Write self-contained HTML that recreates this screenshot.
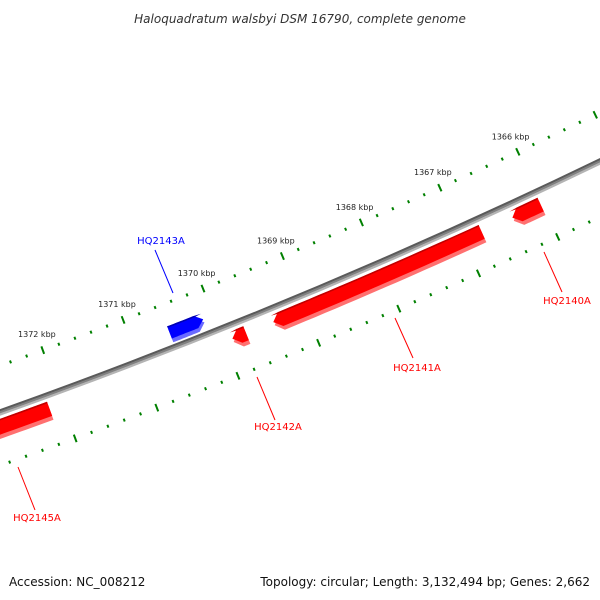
<!DOCTYPE html>
<html><head><meta charset="utf-8"><style>
body{margin:0;background:#fff}
svg{display:block;font-family:"DejaVu Sans","Liberation Sans",sans-serif}
</style></head><body>
<svg id="map" width="600" height="600" viewBox="0 0 600 600" xmlns="http://www.w3.org/2000/svg">
<rect width="600" height="600" fill="#fff"/>
<text x="300" y="23" text-anchor="middle" font-size="12" font-style="italic" fill="#333">Haloquadratum walsbyi DSM 16790, complete genome</text>
<g id="ticks"></g>
<g id="backbone"></g>
<g id="genes"></g>
<g id="labels"></g>
<text x="9" y="586" font-size="12" fill="#111">Accession: NC_008212</text>
<text x="590" y="586" text-anchor="end" font-size="12" fill="#111">Topology: circular; Length: 3,132,494 bp; Genes: 2,662</text>
</svg>
<script>
const tickLabelKbp = [1366, 1367, 1368, 1369, 1370, 1371, 1372];
const geneNames = ["HQ2145A", "HQ2143A", "HQ2142A", "HQ2141A", "HQ2140A"];
const geneStart = [1372.16, 1370.55, 1369.90, 1369.39, 1366.38];
const geneEnd = [1373.6, 1370.13, 1369.73, 1366.77, 1366.02];
const geneStrand = [-1, 1, -1, -1, -1];
const labelPos = [[37,521],[161,244],[278,430],[417,371],[567,304]];
const leaderStart = [[18,467],[173,293],[257,377],[395,318],[544,252]];
const leaderEnd = [[35,510],[155,250],[275,420],[413,358],[562,292]];

const NS = "http://www.w3.org/2000/svg";
const cx = -2028, cy = -5278;
const refKbp = 1372, refDeg = 69.80, degPerKbp = 0.82;
function ang(kbp){ return (refDeg - (refKbp - kbp) * degPerKbp) * Math.PI / 180; }
function pt(r, kbp){ const a = ang(kbp); return [cx + r*Math.cos(a), cy + r*Math.sin(a)]; }
function mk(tag, attrs, parent){ const e = document.createElementNS(NS, tag); for (const k in attrs) e.setAttribute(k, attrs[k]); parent.appendChild(e); return e; }

const tg = document.getElementById('ticks');
const rings = [5997, 6091];
rings.forEach((R) => {
  for (let i = 13640; i <= 13740; i += 2) {
    const kbp = i / 10;
    const major = (i % 10 === 0);
    const h = major ? 4 : 1.5;
    const p1 = pt(R - h, kbp), p2 = pt(R + h, kbp);
    const l = mk('line', {x1:p1[0], y1:p1[1], x2:p2[0], y2:p2[1], stroke:'#008000', 'stroke-width': 2}, tg);
    
    
  }
});
tickLabelKbp.forEach(k => {
  const p = pt(5980, k);
  const t = mk('text', {x:p[0], y:p[1]+3, 'text-anchor':'middle', 'font-size':'8', fill:'#222'}, tg);
  t.textContent = k + ' kbp';
  
  
});

const bg = document.getElementById('backbone');
function arcPath(r, k1, k2){ const p1 = pt(r,k1), p2 = pt(r,k2); return `M${p1[0]},${p1[1]} A${r},${r} 0 0 0 ${p2[0]},${p2[1]}`; }
[[6039,'#5a5a5a'],[6041,'#808080'],[6043,'#b4b4b4']].forEach(([r,c]) => {
  const p = mk('path', {d:arcPath(r, 1374.5, 1364.5), stroke:c, 'stroke-width':2.2, fill:'none'}, bg);
  
  
});

const gg = document.getElementById('genes');
function genePoly(a, b, r1, r2, strand){
  const head = 0.09;
  const pts = [];
  const n = 20;
  const rm = (r1 + r2) / 2;
  if (strand < 0) {
    const bodyK = a - head;
    pts.push(pt(rm, a));
    for (let i = 0; i <= n; i++) pts.push(pt(r1, bodyK + (b - bodyK) * i / n));
    for (let i = n; i >= 0; i--) pts.push(pt(r2, bodyK + (b - bodyK) * i / n));
  } else {
    const bodyK = b + head;
    for (let i = 0; i <= n; i++) pts.push(pt(r1, a + (bodyK - a) * i / n));
    pts.push(pt(rm, b));
    for (let i = n; i >= 0; i--) pts.push(pt(r2, a + (bodyK - a) * i / n));
  }
  return pts.map(p => p[0].toFixed(1) + ',' + p[1].toFixed(1)).join(' ');
}
geneNames.forEach((name, i) => {
  const fwd = geneStrand[i] > 0;
  const r1 = fwd ? 6019 : 6047, r2 = fwd ? 6036 : 6066;
  const main = fwd ? '#0000ff' : '#ff0000';
  const light = fwd ? '#6a6aff' : '#ff7070';
  const dark = fwd ? '#0000b0' : '#c00000';
  const hi = Math.max(geneStart[i], geneEnd[i]), lo = Math.min(geneStart[i], geneEnd[i]);
  const g = mk('g', {}, gg);
  
  
  mk('polygon', {points:genePoly(hi, lo, r1 + 3, r2, geneStrand[i]), fill:light}, g);
  mk('polygon', {points:genePoly(hi, lo, r1, r2 - 4, geneStrand[i]), fill:main}, g);
  mk('polygon', {points:genePoly(hi, lo, r1, r1 + 1.5, geneStrand[i]), fill:dark}, g);
});

const lg = document.getElementById('labels');
geneNames.forEach((name, i) => {
  const c = geneStrand[i] > 0 ? '#0000ff' : '#ff0000';
  const l = mk('line', {x1:leaderStart[i][0], y1:leaderStart[i][1], x2:leaderEnd[i][0], y2:leaderEnd[i][1], stroke:c, 'stroke-width':1}, lg);
  
  
  const t = mk('text', {x:labelPos[i][0], y:labelPos[i][1], 'text-anchor':'middle', 'font-size':'10', fill:c}, lg);
  t.textContent = name;
  
  
});
</script>
</body></html>
